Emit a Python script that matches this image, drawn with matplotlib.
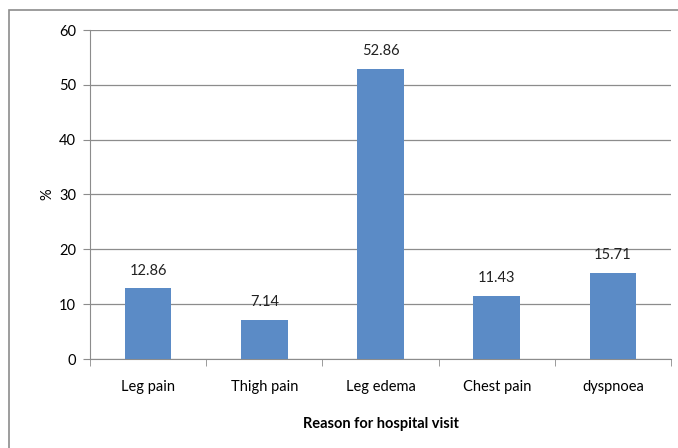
import numpy as np
import matplotlib.pyplot as plt
from matplotlib.patches import Rectangle

plt.rcParams['font.family'] = ['Lato', 'DejaVu Sans']

categories = ["Leg pain", "Thigh pain", "Leg edema", "Chest pain", "dyspnoea"]
values = [12.86, 7.14, 52.86, 11.43, 15.71]
yticks = [0, 10, 20, 30, 40, 50, 60]

fig = plt.figure(figsize=(6.78, 4.48), dpi=100)
ax = fig.add_axes([90/678, 1 - 359/448, 581/678, 329/448])

x = np.arange(len(categories))
ax.bar(x, values, width=0.4, color="#5b8bc6", zorder=3)

for xi, v in zip(x, values):
    ax.text(xi, v + 2.0, f"{v:.2f}", ha="center", va="bottom", fontsize=10.5, color="#222222")

ax.set_xlim(-0.5, len(categories) - 0.5)
ax.set_ylim(0, 60)
ax.set_yticks(yticks)
ax.yaxis.grid(True, color="#8c8c8c", linewidth=0.9, zorder=0)

ax.set_xticks(x)
ax.set_xticklabels(categories, fontsize=10.5)
ax.set_xticks(np.arange(len(categories) + 1) - 0.5, minor=True)
ax.tick_params(axis="x", which="major", length=0, pad=15)
ax.tick_params(axis="x", which="minor", length=5, color="#8c8c8c")
ax.tick_params(axis="y", length=5, color="#8c8c8c", labelsize=10.5, pad=5)

for s in ["top", "right"]:
    ax.spines[s].set_visible(False)
for s in ["left", "bottom"]:
    ax.spines[s].set_color("#8c8c8c")

ax.set_xlabel("Reason for hospital visit", fontsize=10.5, fontweight="bold", labelpad=17)
ax.set_ylabel("%", fontsize=10.5, labelpad=3)

# outer chart border
fig.patches.append(Rectangle((9/678, -0.1), 1.2, 1 - 10/448 + 0.1, transform=fig.transFigure,
                             fill=False, edgecolor="#8c8c8c", linewidth=1.2))

fig.savefig("out.png", dpi=100)
